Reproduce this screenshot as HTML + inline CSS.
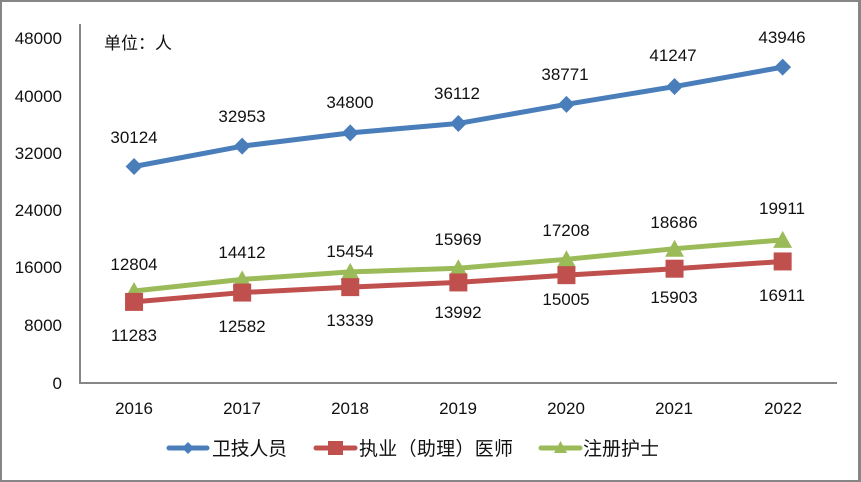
<!DOCTYPE html>
<html><head><meta charset="utf-8"><style>
html,body{margin:0;padding:0;background:#fff;}
svg{display:block;}
text{font-family:"Liberation Sans","Noto Sans CJK SC",sans-serif;fill:#111;}
</style></head><body>
<svg width="861" height="482" viewBox="0 0 861 482" xmlns="http://www.w3.org/2000/svg">
<rect x="0" y="0" width="861" height="482" fill="#fff"/>
<!-- outer border -->
<rect x="0" y="0" width="2" height="482" fill="#868686"/>
<rect x="0" y="0" width="861" height="2" fill="#868686"/>
<rect x="858" y="0" width="3" height="482" fill="#868686"/>
<rect x="0" y="480" width="861" height="2" fill="#868686"/>
<!-- axes -->
<line x1="80" y1="24" x2="80" y2="384" stroke="#868686" stroke-width="2"/>
<line x1="79" y1="383" x2="837" y2="383" stroke="#868686" stroke-width="2"/>
<!-- y labels -->
<g font-size="17" text-anchor="end">
<text x="62" y="44">48000</text>
<text x="62" y="102">40000</text>
<text x="62" y="159">32000</text>
<text x="62" y="216">24000</text>
<text x="62" y="273">16000</text>
<text x="62" y="331">8000</text>
<text x="62" y="389">0</text>
</g>
<!-- x labels -->
<g font-size="17" text-anchor="middle">
<text x="134" y="414">2016</text>
<text x="242" y="414">2017</text>
<text x="350" y="414">2018</text>
<text x="458" y="414">2019</text>
<text x="566" y="414">2020</text>
<text x="674" y="414">2021</text>
<text x="783" y="414">2022</text>
</g>
<text x="104" y="49" font-size="17" textLength="68">单位：人</text>
<!-- blue series -->
<polyline fill="none" stroke="#4a7ebb" stroke-width="5" stroke-linejoin="round" points="134.05,166.5 242.15,146.15 350.25,132.87 458.35,123.44 566.45,104.33 674.55,86.54 782.65,67.14"/>
<g fill="#4a7ebb">
<polygon points="134.05,158 142.5,166.5 134.05,175 125.6,166.5"/>
<polygon points="242.15,137.65 250.6,146.15 242.15,154.65 233.7,146.15"/>
<polygon points="350.25,124.37 358.7,132.87 350.25,141.37 341.8,132.87"/>
<polygon points="458.35,114.94 466.8,123.44 458.35,131.94 449.9,123.44"/>
<polygon points="566.45,95.83 574.9,104.33 566.45,112.83 558,104.33"/>
<polygon points="674.55,78.04 683,86.54 674.55,95.04 666.1,86.54"/>
<polygon points="782.65,58.64 791.1,67.14 782.65,75.64 774.2,67.14"/>
</g>
<!-- green series -->
<polyline fill="none" stroke="#9bbb59" stroke-width="5" stroke-linejoin="round" points="134.05,290.97 242.15,279.41 350.25,271.92 458.35,268.22 566.45,259.32 674.55,248.69 782.65,239.89"/>
<g fill="#9bbb59">
<polygon points="134.05,282 143.5,299 124.6,299"/>
<polygon points="242.15,270.4 251.6,287.4 232.7,287.4"/>
<polygon points="350.25,262.9 359.7,279.9 340.8,279.9"/>
<polygon points="458.35,259.2 467.8,276.2 448.9,276.2"/>
<polygon points="566.45,250.3 575.9,267.3 557,267.3"/>
<polygon points="674.55,239.7 684,256.7 665.1,256.7"/>
<polygon points="782.65,230.9 792.1,247.9 773.2,247.9"/>
</g>
<!-- red series -->
<polyline fill="none" stroke="#c0504d" stroke-width="5" stroke-linejoin="round" points="134.05,301.9 242.15,292.57 350.25,287.13 458.35,282.43 566.45,275.15 674.55,268.7 782.65,261.45"/>
<g fill="#c0504d">
<rect x="125.05" y="292.9" width="18" height="18"/>
<rect x="233.15" y="283.57" width="18" height="18"/>
<rect x="341.25" y="278.13" width="18" height="18"/>
<rect x="449.35" y="273.43" width="18" height="18"/>
<rect x="557.45" y="266.15" width="18" height="18"/>
<rect x="665.55" y="259.7" width="18" height="18"/>
<rect x="773.65" y="252.45" width="18" height="18"/>
</g>
<!-- data labels -->
<g font-size="17" text-anchor="middle">
<text x="134" y="143">30124</text>
<text x="242" y="122">32953</text>
<text x="350" y="108">34800</text>
<text x="457" y="99">36112</text>
<text x="565" y="80">38771</text>
<text x="673" y="61">41247</text>
<text x="782" y="43">43946</text>

<text x="134" y="270">12804</text>
<text x="242" y="258">14412</text>
<text x="350" y="257">15454</text>
<text x="458" y="245">15969</text>
<text x="566" y="236">17208</text>
<text x="674" y="228">18686</text>
<text x="782" y="214">19911</text>

<text x="134" y="341">11283</text>
<text x="242" y="332">12582</text>
<text x="350" y="326">13339</text>
<text x="458" y="318">13992</text>
<text x="566" y="305">15005</text>
<text x="674" y="303">15903</text>
<text x="782" y="301">16911</text>
</g>
<!-- legend -->
<line x1="169" y1="448" x2="207" y2="448" stroke="#4a7ebb" stroke-width="5" stroke-linecap="round"/>
<polygon points="188,442 194,448 188,454 182,448" fill="#4a7ebb"/>
<text x="212" y="455" font-size="19" textLength="75" fill="#222">卫技人员</text>
<line x1="316" y1="448" x2="355" y2="448" stroke="#c0504d" stroke-width="5" stroke-linecap="round"/>
<rect x="328" y="441" width="15" height="14" fill="#c0504d"/>
<text x="359" y="455" font-size="19" textLength="154" fill="#222">执业（助理）医师</text>
<line x1="541" y1="448" x2="580" y2="448" stroke="#9bbb59" stroke-width="5" stroke-linecap="round"/>
<polygon points="560.5,441 567,453 554,453" fill="#9bbb59"/>
<text x="583" y="455" font-size="19" textLength="76" fill="#222">注册护士</text>
</svg>
</body></html>
